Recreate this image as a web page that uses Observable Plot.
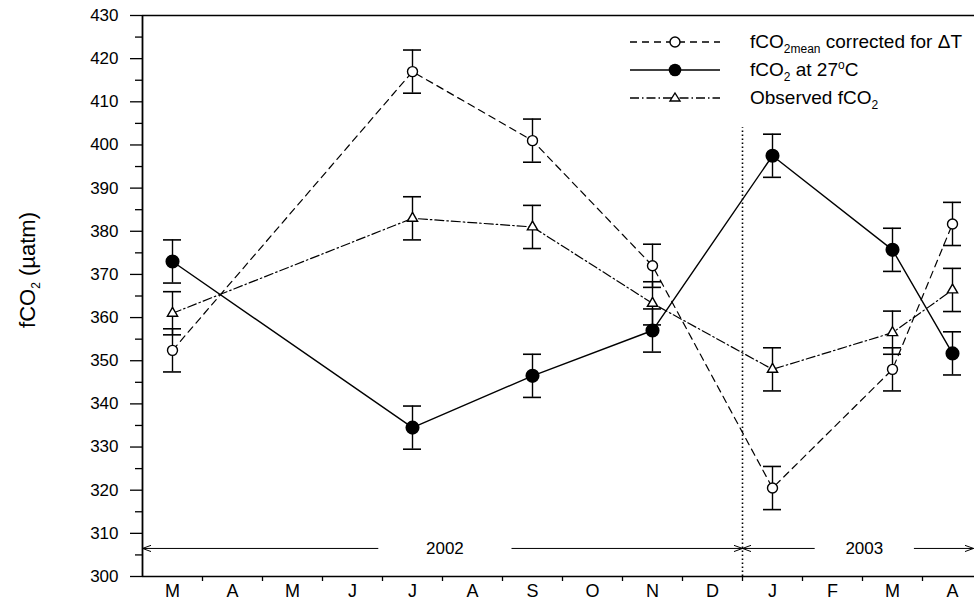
<!DOCTYPE html>
<html>
<head>
<meta charset="utf-8">
<script src="https://cdn.jsdelivr.net/npm/d3@7"></script>
<script src="https://cdn.jsdelivr.net/npm/@observablehq/plot@0.6"></script>
<style>
  html, body { margin: 0; padding: 0; background: #fff; overflow: hidden; }
  #wrap { position: relative; width: 974px; height: 603px; font-family: "Liberation Sans", Arial, sans-serif; }
  #wrap > svg { position: absolute; left: 0; top: 0; overflow: hidden; }
  .ylab { position: absolute; left: 28px; top: 270px; transform: translate(-50%, -50%) rotate(-90deg); font-size: 22px; white-space: nowrap; color: #000; }
  .leg { position: absolute; left: 0; top: 0; width: 974px; height: 0; font-size: 19px; color: #000; }
  .leg .sample { position: absolute; left: 630px; }
  .leg .txt { position: absolute; left: 750px; white-space: nowrap; background: #fff; line-height: 22px; padding-right: 2px; }
  sub { font-size: 12px; vertical-align: -5px; line-height: 0; }
  sup { font-size: 12px; vertical-align: 7px; line-height: 0; }
</style>
</head>
<body>
<div id="wrap"></div>
<script>
// ---- data ----
const months = ["M","A","M","J","J","A","S","O","N","D","J","F","M","A"];
const sampleMonth = [0, 4, 6, 8, 10, 12, 13];           // month index of each survey
const corrected = [352.4, 417, 401, 372, 320.5, 348, 381.7];   // fCO2mean corrected for ΔT
const at27 = [373, 334.5, 346.5, 357, 397.5, 375.7, 351.7];    // fCO2 at 27°C
const observed = [361, 383, 381, 363.3, 348, 356.5, 366.4];    // observed fCO2
const errBar = [5, 5, 5, 5, 5, 5, 5];
const yMajor = d3.range(300, 431, 10);
const yMinor = d3.range(305, 430, 10);
const yearLabels = ["2002", "2003"];
const yearStart = [0, 10];
const yearEnd = [10, 13.85];
const yearMid = [5.04, 12.03];
const yearLevel = 306.5;
const boundary = 10;
const boundaryTop = 404;

// ---- tables ----
const mk = (vals) => vals.map((v, k) => ({m: sampleMonth[k], v, e: errBar[k]}));
const sCorr = mk(corrected), s27 = mk(at27), sObs = mk(observed);
const years = yearLabels.map((label, k) => ({label, start: yearStart[k], end: yearEnd[k], mid: yearMid[k]}));

const X = d => d.m + 0.5;
const capW = 0.15;

function bars(data) {
  return [
    Plot.ruleX(data, {x: X, y1: d => d.v - d.e, y2: d => d.v + d.e, stroke: "#000", strokeWidth: 1.4}),
    Plot.ruleY(data, {y: d => d.v - d.e, x1: d => X(d) - capW, x2: d => X(d) + capW, stroke: "#000", strokeWidth: 1.6}),
    Plot.ruleY(data, {y: d => d.v + d.e, x1: d => X(d) - capW, x2: d => X(d) + capW, stroke: "#000", strokeWidth: 1.6})
  ];
}

const insets = [67, 50];

const chart = Plot.plot({
  width: 974,
  height: 603,
  marginLeft: 142,
  marginRight: 0,
  marginTop: 15,
  marginBottom: 27,
  style: {fontFamily: "'Liberation Sans', Arial, sans-serif", fontSize: "17px", color: "#000", background: "#fff"},
  x: {type: "linear", domain: [0, 14], range: [142, 982], axis: null},
  y: {domain: [300, 430], axis: null},
  marks: [
    // frame
    Plot.ruleY([430], {stroke: "#000", strokeWidth: 1.5}),
    Plot.ruleY([300], {stroke: "#000", strokeWidth: 1.5}),
    Plot.ruleX([0], {stroke: "#000", strokeWidth: 1.8}),
    // y axis
    Plot.axisY(yMajor, {tickSize: 12, tickPadding: 12, fontSize: 17, label: null, strokeWidth: 1.3}),
    Plot.axisY(yMinor, {tickSize: 7, tickFormat: () => "", label: null, strokeWidth: 1.3}),
    // x axis: boundary ticks and month labels
    Plot.axisX(d3.range(1, 14), {tickSize: 5, tickFormat: () => "", label: null, strokeWidth: 1.3}),
    Plot.axisX(d3.range(14).map(i => i + 0.5), {tickSize: 0, tickPadding: 8, fontSize: 18, label: null, tickFormat: d => months[Math.floor(d)]}),
    // year boundary
    Plot.ruleX([boundary], {y1: 300, y2: boundaryTop, stroke: "#000", strokeWidth: 1.6, strokeDasharray: "1.5,2.5"}),
    // year arrows
    ...years.map((yr, k) => Plot.arrow([yr], {x1: d => d.mid, x2: d => d.start, y1: yearLevel, y2: yearLevel, insetStart: insets[k], headLength: 13, headAngle: 40, stroke: "#000", strokeWidth: 1})),
    ...years.map((yr, k) => Plot.arrow([yr], {x1: d => d.mid, x2: d => d.end, y1: yearLevel, y2: yearLevel, insetStart: insets[k], headLength: 13, headAngle: 40, stroke: "#000", strokeWidth: 1})),
    Plot.text(years, {x: "mid", y: yearLevel, text: "label", fontSize: 17}),
    // error bars
    ...bars(sCorr), ...bars(s27), ...bars(sObs),
    // lines
    Plot.line(sCorr, {x: X, y: "v", stroke: "#000", strokeWidth: 1.2, strokeDasharray: "7,5"}),
    Plot.line(s27, {x: X, y: "v", stroke: "#000", strokeWidth: 1.4}),
    Plot.line(sObs, {x: X, y: "v", stroke: "#000", strokeWidth: 1.2, strokeDasharray: "9,3,1.5,3"}),
    // markers
    Plot.dot(sCorr, {x: X, y: "v", r: 5, stroke: "#000", fill: "#fff", strokeWidth: 1.4}),
    Plot.dot(s27, {x: X, y: "v", r: 6.3, fill: "#000", stroke: "#000"}),
    Plot.dot(sObs, {x: X, y: "v", symbol: "triangle", r: 3.8, stroke: "#000", fill: "#fff", strokeWidth: 1.4})
  ]
});

const wrap = document.getElementById("wrap");
wrap.appendChild(chart);

// y-axis title
const yl = document.createElement("div");
yl.className = "ylab";
yl.innerHTML = "fCO<sub>2</sub> (µatm)";
wrap.appendChild(yl);

// legend
const legendItems = [
  {html: "fCO<sub>2mean</sub> corrected for ΔT", dash: "7,5", sym: "circle", y: 42},
  {html: "fCO<sub>2</sub> at 27<sup>o</sup>C", dash: null, sym: "filled", y: 70},
  {html: "Observed fCO<sub>2</sub>", dash: "9,3,1.5,3", sym: "triangle", y: 98}
];
const leg = document.createElement("div");
leg.className = "leg";
legendItems.forEach(it => {
  let symSvg = "";
  if (it.sym === "circle") symSvg = '<circle cx="45" cy="10" r="5" fill="#fff" stroke="#000" stroke-width="1.4"/>';
  if (it.sym === "filled") symSvg = '<circle cx="45" cy="10" r="6.3" fill="#000"/>';
  if (it.sym === "triangle") symSvg = '<path d="M45,5 L50,13 L40,13 Z" fill="#fff" stroke="#000" stroke-width="1.4"/>';
  const s = document.createElement("div");
  s.className = "sample";
  s.style.top = (it.y - 10) + "px";
  s.innerHTML = '<svg width="90" height="20" style="display:block"><line x1="0" y1="10" x2="90" y2="10" stroke="#000" stroke-width="1.3"' +
    (it.dash ? ' stroke-dasharray="' + it.dash + '"' : '') + '/>' + symSvg + '</svg>';
  leg.appendChild(s);
  const t = document.createElement("div");
  t.className = "txt";
  t.style.top = (it.y - 11) + "px";
  t.innerHTML = it.html;
  leg.appendChild(t);
});
wrap.appendChild(leg);
</script>
</body>
</html>
